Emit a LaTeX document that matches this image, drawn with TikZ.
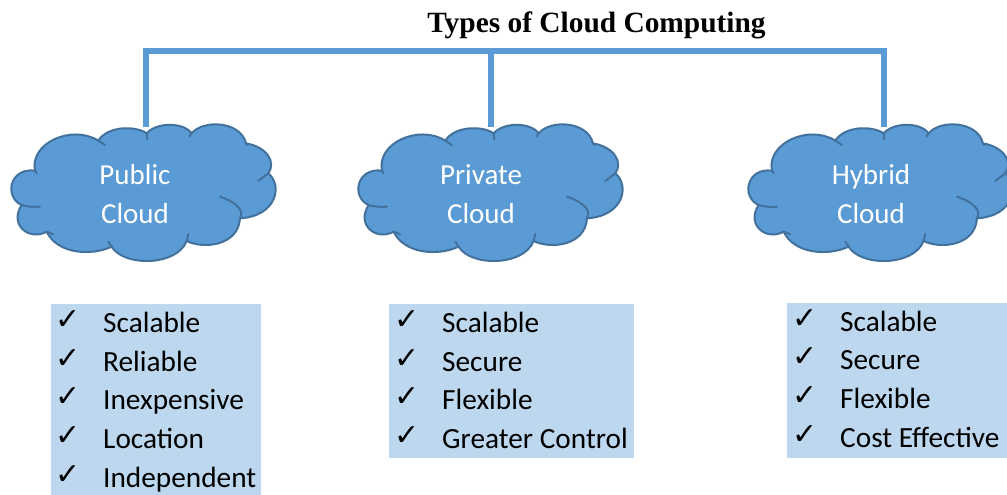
\documentclass[tikz,border=0pt]{standalone}
\usepackage{fontspec}
\setmainfont{Carlito}
\newfontfamily\titlefont{Liberation Serif}
\newfontfamily\checkfont{DejaVu Sans}
\definecolor{cloudfill}{HTML}{5B9BD5}
\definecolor{cloudline}{HTML}{41719C}
\definecolor{listfill}{HTML}{BDD7EE}
\newcommand{\cloudoutline}{%
  (105,182) .. controls (88,100) and (215,42) .. (295,92)
  .. controls (322,48) and (405,46) .. (440,70)
  .. controls (470,36) and (550,36) .. (575,70)
  .. controls (610,28) and (722,33) .. (738,100)
  .. controls (805,112) and (828,160) .. (805,190)
  .. controls (848,225) and (832,318) .. (720,325)
  .. controls (715,408) and (610,418) .. (560,393)
  .. controls (530,470) and (370,470) .. (335,410)
  .. controls (270,440) and (170,430) .. (140,365)
  .. controls (88,394) and (26,345) .. (65,285)
  .. controls (12,262) and (28,172) .. (105,182) -- cycle}
\newcommand{\cloudinner}{%
  (295,92) -- (315,105)
  (440,70) -- (442,88)
  (575,70) -- (568,80)
  (738,100) -- (742,105)
  (805,190) -- (775,213)
  (720,325) .. controls (735,300) and (705,275) .. (660,260)
  (560,393) -- (565,372)
  (335,410) -- (325,395)
  (140,365) -- (160,373)
  (65,285) .. controls (80,290) and (100,292) .. (120,290)
  (105,182) -- (110,190)}
\tikzset{
  x=1pt,y=-1pt,
  bus/.style={draw=cloudfill,line width=6pt,line join=miter},
  cloudshape/.style={fill=cloudfill,draw=cloudline,line width=2pt,line join=round},
  cloudlabel/.style={text=white,align=center,font=\fontsize{29}{38.5}\selectfont,inner sep=0pt},
  listbox/.style={fill=listfill,draw=none,anchor=north west,inner sep=0pt,minimum height=0pt},
  item/.style={anchor=base west,inner sep=0pt,font=\fontsize{29.3}{29.3}\selectfont},
  tick/.style={anchor=center,inner sep=0pt,font=\checkfont\fontsize{30}{30}\selectfont},
}
\newcommand{\cloudat}[1]{%
  \begin{scope}[shift={(#1,110)},x=0.3333pt,y=-0.3333pt]
    \path[cloudshape] \cloudoutline;
    \draw[cloudline,line width=2pt,line cap=round] \cloudinner;
  \end{scope}}
\begin{document}
\begin{tikzpicture}
\useasboundingbox (0,0) rectangle (1007,495);
\path[fill=white] (0,0) rectangle (1007,495);
\node[font=\titlefont\bfseries\fontsize{29.4}{29.4}\selectfont,inner sep=0pt,anchor=base] (title) at (596.5,33) {Types of Cloud Computing};

\coordinate (pubbus) at (146,51);
\coordinate (pribus) at (491,51);
\coordinate (hybbus) at (884,51);
\coordinate (pubtop) at (146,127);
\coordinate (pritop) at (491,127);
\coordinate (hybtop) at (884,127);
\draw[bus] (pubtop) -- (pubbus) -- (hybbus) -- (hybtop);
\draw[bus] (pribus) -- (pritop);

\cloudat{0}
\cloudat{347}
\cloudat{737}
\node[cloudlabel] (public) at (135,194) {Public\\Cloud};
\node[cloudlabel] (private) at (481,194) {Private\\Cloud};
\node[cloudlabel] (hybrid) at (871,194) {Hybrid\\Cloud};

\node[listbox,minimum width=210pt,minimum height=191pt] (publist) at (51,304) {};
\node[listbox,minimum width=245pt,minimum height=154pt] (prilist) at (389,304) {};
\node[listbox,minimum width=220pt,minimum height=155pt] (hyblist) at (787,303) {};

\foreach \n/\y/\t in {a/332/Scalable,b/371/Reliable,c/409/Inexpensive,d/448/Location,e/487/Independent}{
  \node[tick] (pubtick\n) at (68,\y-12) {✓};
  \node[item] (pubitem\n) at (103,\y) {\t};
}
\foreach \n/\y/\t in {a/332/Scalable,b/371/Secure,c/409/Flexible,d/448/Greater Control}{
  \node[tick] (pritick\n) at (407,\y-12) {✓};
  \node[item] (priitem\n) at (442,\y) {\t};
}
\foreach \n/\y/\t in {a/331/Scalable,b/369/Secure,c/408/Flexible,d/447/Cost Effective}{
  \node[tick] (hybtick\n) at (805,\y-12) {✓};
  \node[item] (hybitem\n) at (840,\y) {\t};
}
\end{tikzpicture}
\end{document}
